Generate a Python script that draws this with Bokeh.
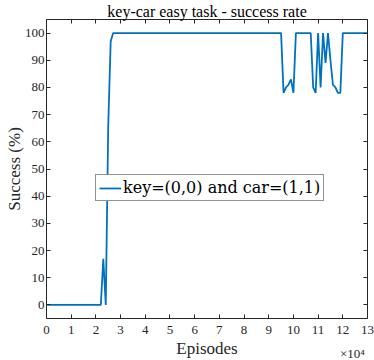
from bokeh.plotting import figure
from bokeh.models import LinearAxis, FixedTicker, Range1d, Legend, LegendItem, ColumnDataSource
from bokeh.embed import file_html
from bokeh.resources import INLINE

# ---- data ----
episodes = [0, 22000, 23000, 24000, 25000, 26000, 27000, 95000, 96000, 97000,
            98000, 99000, 100000, 101000, 107000, 108000, 109000, 110000,
            111000, 112000, 113000, 114000, 115000, 116000, 117000, 118000,
            119000, 120000, 130000]
success = [0, 0, 17, 0, 66, 97, 100, 100, 78, 80,
           81, 83, 78, 100, 100, 80, 78, 100,
           80, 100, 89, 100, 90, 81, 80, 78,
           78, 100, 100]
x_ticks = [0, 10000, 20000, 30000, 40000, 50000, 60000, 70000, 80000,
           90000, 100000, 110000, 120000, 130000]
x_tick_labels = ["0", "1", "2", "3", "4", "5", "6", "7", "8", "9", "10",
                 "11", "12", "13"]
y_ticks = [0, 10, 20, 30, 40, 50, 60, 70, 80, 90, 100]
exponent_pos = 123900          # where the "x10^4" multiplier sits
exponent_text = "\n\u00d710\u2074"
series_label = "key=(0,0) and car=(1,1)"
title_text = "key-car easy task - success rate"

SERIF = "Liberation Serif"
AX = "#262626"
LINE = "#0072BD"

p = figure(width=374, height=360, title=title_text,
           x_range=Range1d(0, 130000), y_range=Range1d(-5, 105),
           output_backend="svg", toolbar_location=None,
           min_border_left=46, min_border_right=7,
           min_border_top=19, min_border_bottom=42)
p.xgrid.visible = False
p.ygrid.visible = False
p.outline_line_color = None

p.title.text_font = SERIF
p.title.text_font_size = "16px"
p.title.text_font_style = "normal"
p.title.text_color = "black"
p.title.align = "center"
p.title.standoff = 0
p.title.text_line_height = 0.75

src = ColumnDataSource(dict(x=episodes, y=success))
r = p.line("x", "y", source=src, line_color=LINE, line_width=1.8)

xt = FixedTicker(ticks=x_ticks)
yt = FixedTicker(ticks=y_ticks)

def tick_only(ax):
    ax.axis_line_color = AX
    ax.major_tick_line_color = AX
    ax.major_tick_in = 4
    ax.major_tick_out = 0
    ax.minor_tick_line_color = None
    ax.major_label_text_font_size = "0px"
    ax.major_label_text_color = None
    ax.major_label_standoff = 0

# bottom: default axis only draws the inward ticks
xa = p.xaxis[0]
xa.ticker = xt
tick_only(xa)

# bottom: labelled axis (tick labels, multiplier and axis label)
lab_ticks = x_ticks + [exponent_pos]
overrides = {v: s for v, s in zip(x_ticks, x_tick_labels)}
overrides[exponent_pos] = exponent_text
xl = LinearAxis(ticker=FixedTicker(ticks=lab_ticks))
xl.major_label_overrides = overrides
xl.axis_line_color = None
xl.major_tick_line_color = None
xl.minor_tick_line_color = None
xl.major_tick_in = 0
xl.major_tick_out = 0
xl.major_label_standoff = 3
xl.major_label_text_font = SERIF
xl.major_label_text_font_size = "13px"
xl.major_label_text_color = AX
xl.major_label_text_line_height = 1.6
xl.axis_label = "Episodes"
xl.axis_label_text_font = SERIF
xl.axis_label_text_font_size = "17px"
xl.axis_label_text_font_style = "normal"
xl.axis_label_text_color = AX
xl.axis_label_standoff = -25
p.add_layout(xl, "below")

ya = p.yaxis[0]
ya.ticker = yt
ya.axis_line_color = AX
ya.major_tick_line_color = AX
ya.major_tick_in = 4
ya.major_tick_out = 0
ya.minor_tick_line_color = None
ya.major_label_standoff = 2
ya.major_label_text_font = SERIF
ya.major_label_text_font_size = "13px"
ya.major_label_text_color = AX
ya.axis_label = "Success (%)"
ya.axis_label_text_font = SERIF
ya.axis_label_text_font_size = "17px"
ya.axis_label_text_font_style = "normal"
ya.axis_label_text_color = AX
ya.axis_label_standoff = -2

top = LinearAxis(ticker=xt)
tick_only(top)
p.add_layout(top, "above")
right = LinearAxis(ticker=yt)
tick_only(right)
p.add_layout(right, "right")

legend = Legend(items=[LegendItem(label=series_label, renderers=[r])],
                location=(49, 117))
legend.label_text_font = "DejaVu Serif"
legend.label_text_font_size = "16px"
legend.label_text_color = "black"
legend.border_line_color = AX
legend.border_line_width = 1
legend.background_fill_color = "white"
legend.background_fill_alpha = 1
legend.padding = 3
legend.margin = 0
legend.spacing = 0
legend.glyph_width = 22
legend.glyph_height = 18
legend.label_height = 18
legend.label_standoff = 2
p.add_layout(legend, "center")

open("out.html", "w").write(file_html(p, INLINE))
